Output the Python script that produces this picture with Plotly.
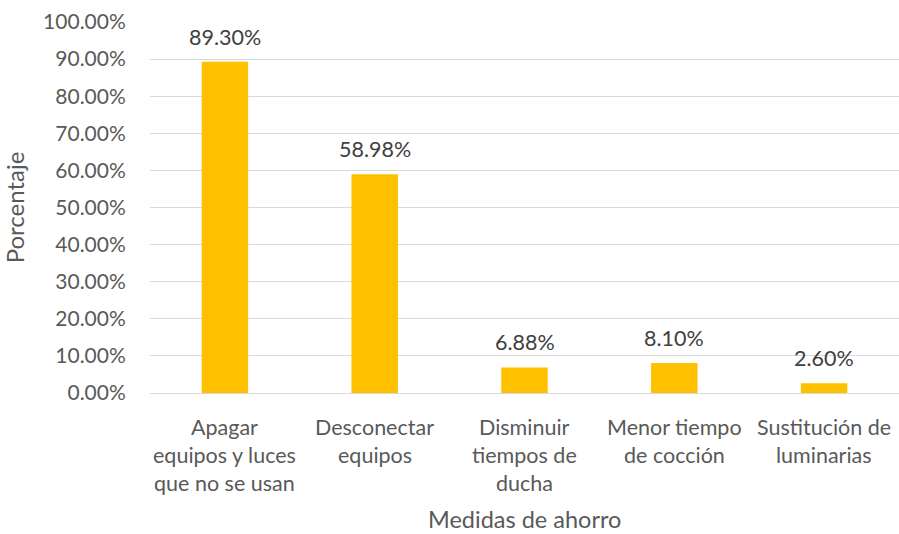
import plotly.graph_objects as go

categories = [
    "Apagar<br>equipos y luces<br>que no se usan",
    "Desconectar<br>equipos",
    "Disminuir<br>tiempos de<br>ducha",
    "Menor tiempo<br>de cocción",
    "Sustitución de<br>luminarias",
]
percentages = [89.30, 58.98, 6.88, 8.10, 2.60]
y_ticks = [0, 10, 20, 30, 40, 50, 60, 70, 80, 90, 100]

FONT = "Lato, 'Open Sans', sans-serif"
GREY = "#595959"

fig = go.Figure()
fig.add_trace(go.Bar(
    x=categories,
    y=percentages,
    marker=dict(color="#FFC000", line=dict(width=0)),
    width=0.31,
    hoverinfo="x+y",
))

annotations = []
# value labels above each bar
for cat, val in zip(categories, percentages):
    annotations.append(dict(
        x=cat, y=val, xref="x", yref="y", text=f"{val:.2f}%",
        showarrow=False, yanchor="bottom", yshift=10,
        font=dict(family=FONT, size=21.5, color="#404040"),
    ))
# category labels, one line at a time for wider line spacing
for cat in categories:
    for i, line in enumerate(cat.split("<br>")):
        annotations.append(dict(
            x=cat, y=0, xref="x", yref="paper", text=line,
            showarrow=False, yanchor="middle", yshift=-(34 + i * 28),
            font=dict(family=FONT, size=21.5, color=GREY),
        ))
# x-axis title
annotations.append(dict(
    x=0.5, y=0, xref="paper", yref="paper", text="Medidas de ahorro",
    showarrow=False, yanchor="middle", yshift=-126,
    font=dict(family=FONT, size=23.5, color=GREY),
))

fig.update_layout(
    width=899, height=534,
    margin=dict(l=150, r=0, t=22, b=141),
    paper_bgcolor="white", plot_bgcolor="white",
    showlegend=False,
    bargap=0.69,
    font=dict(family=FONT, size=21, color=GREY),
    annotations=annotations,
    xaxis=dict(
        showticklabels=False, showgrid=False, zeroline=False,
        showline=False, ticks="", fixedrange=True,
    ),
    yaxis=dict(
        range=[0, 100],
        tickvals=y_ticks,
        ticktext=[f"{v:.2f}%" for v in y_ticks],
        showgrid=True, gridcolor="#D9D9D9", gridwidth=1,
        zeroline=True, zerolinecolor="#D9D9D9", zerolinewidth=1,
        showline=False, ticks="outside", ticklen=19, tickcolor="rgba(0,0,0,0)",
        tickfont=dict(family=FONT, size=21, color=GREY),
        title=dict(text="Porcentaje", standoff=12,
                   font=dict(family=FONT, size=24, color=GREY)),
        automargin=False,
    ),
)

fig.write_html("out.html")
